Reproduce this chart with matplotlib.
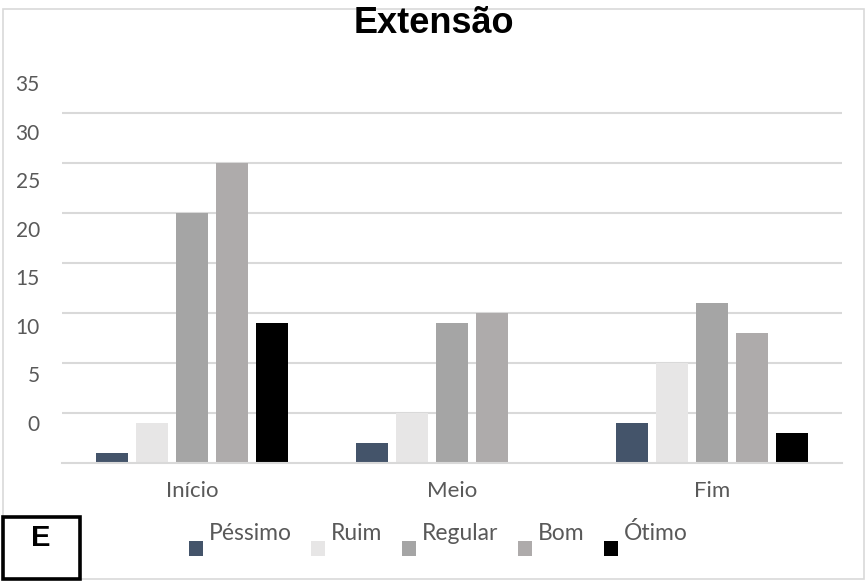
import matplotlib
matplotlib.use("Agg")
import matplotlib.pyplot as plt
from matplotlib.patches import Rectangle
from matplotlib.container import BarContainer
from matplotlib.legend_handler import HandlerPatch
from matplotlib.ticker import FixedLocator

# ---- data ----
categories = ["Início", "Meio", "Fim"]
series_names = ["Péssimo", "Ruim", "Regular", "Bom", "Ótimo"]
pessimo = [1, 2, 4]
ruim = [4, 5, 10]
regular = [25, 14, 16]
bom = [30, 15, 13]
otimo = [14, 0, 3]
tick_labels = [0, 5, 10, 15, 20, 25, 30, 35]

series_values = [pessimo, ruim, regular, bom, otimo]
colors = ["#44546A", "#E7E6E6", "#A5A5A5", "#AEABAB", "#000000"]

W, H = 865, 582
fig = plt.figure(figsize=(W / 100, H / 100), dpi=100)

def fx(px):
    return px / W

def fy(py):
    return 1 - py / H

# plot area
ax = fig.add_axes([fx(62), fy(463), fx(842) - fx(62), fy(63) - fy(463)])
ax.set_xlim(-0.5, len(categories) - 0.5)
ax.set_ylim(0, 40)

pitch = 0.1538
width = 0.123
for i, (name, vals, c) in enumerate(zip(series_names, series_values, colors)):
    xs = [k + (i - 2) * pitch for k in range(len(categories))]
    ax.bar(xs, vals, width=width, color=c, label=name, zorder=3)

# gridlines every 5 units (none at the very top)
ax.yaxis.set_minor_locator(FixedLocator(list(range(5, 40, 5))))
ax.grid(which="minor", axis="y", color="#D9D9D9", linewidth=1.5, zorder=0)
ax.grid(which="major", axis="y", visible=False)
ax.tick_params(axis="y", which="minor", length=0)

# value labels on the y axis (set in their own column beside the grid)
ax.set_yticks([4 + 0.971 * v for v in tick_labels])
ax.set_yticklabels([str(v) for v in tick_labels])
ax.tick_params(axis="y", which="major", length=0, pad=16, labelsize=15,
               labelcolor="#595959")
for lab in ax.get_yticklabels():
    lab.set_fontfamily("Lato")

ax.set_xticks(range(len(categories)))
ax.set_xticklabels(categories)
ax.tick_params(axis="x", length=0, pad=13, labelsize=16, labelcolor="#595959")
for lab in ax.get_xticklabels():
    lab.set_fontfamily("Lato")

for s in ["top", "right", "left"]:
    ax.spines[s].set_visible(False)
ax.spines["bottom"].set_color("#D9D9D9")
ax.spines["bottom"].set_linewidth(1.5)
ax.spines["bottom"].set_zorder(4)


# legend with square keys set slightly below the text line
def low_square(legend, orig_handle, xdescent, ydescent, width, height, fontsize):
    return Rectangle((-xdescent, -ydescent - 12), width, height)

def copy_bar_style(legend_patch, orig_handle):
    legend_patch.update_from(orig_handle.patches[0])

handles, labels = ax.get_legend_handles_labels()
leg = fig.legend(handles, labels, loc="center", ncol=5,
                 bbox_to_anchor=(fx(438), fy(533)), frameon=False,
                 prop={"family": "Lato", "size": 16.5},
                 handlelength=0.62, handleheight=0.58, handletextpad=0.25,
                 columnspacing=0.85,
                 handler_map={BarContainer: HandlerPatch(patch_func=low_square,
                                                         update_func=copy_bar_style)})
for t in leg.get_texts():
    t.set_color("#595959")

# outer chart border
fig.patches.append(Rectangle((fx(3), fy(579)), fx(864) - fx(3), fy(9) - fy(579),
                             transform=fig.transFigure, fill=False,
                             edgecolor="#D9D9D9", linewidth=1.2, zorder=0))

# title
fig.text(fx(434), fy(33), "Extensão", ha="center", va="baseline",
         fontsize=26, fontweight="bold", family="Liberation Sans", zorder=5)

# panel letter box
fig.patches.append(Rectangle((fx(3), fy(579)), fx(80) - fx(3), fy(517) - fy(579),
                             transform=fig.transFigure, facecolor="white",
                             edgecolor="black", linewidth=2.6, zorder=6))
fig.text(fx(41), fy(538), "E", ha="center", va="center", fontsize=21,
         fontweight="bold", family="Liberation Sans", zorder=7)

fig.savefig("out.png", dpi=100)
